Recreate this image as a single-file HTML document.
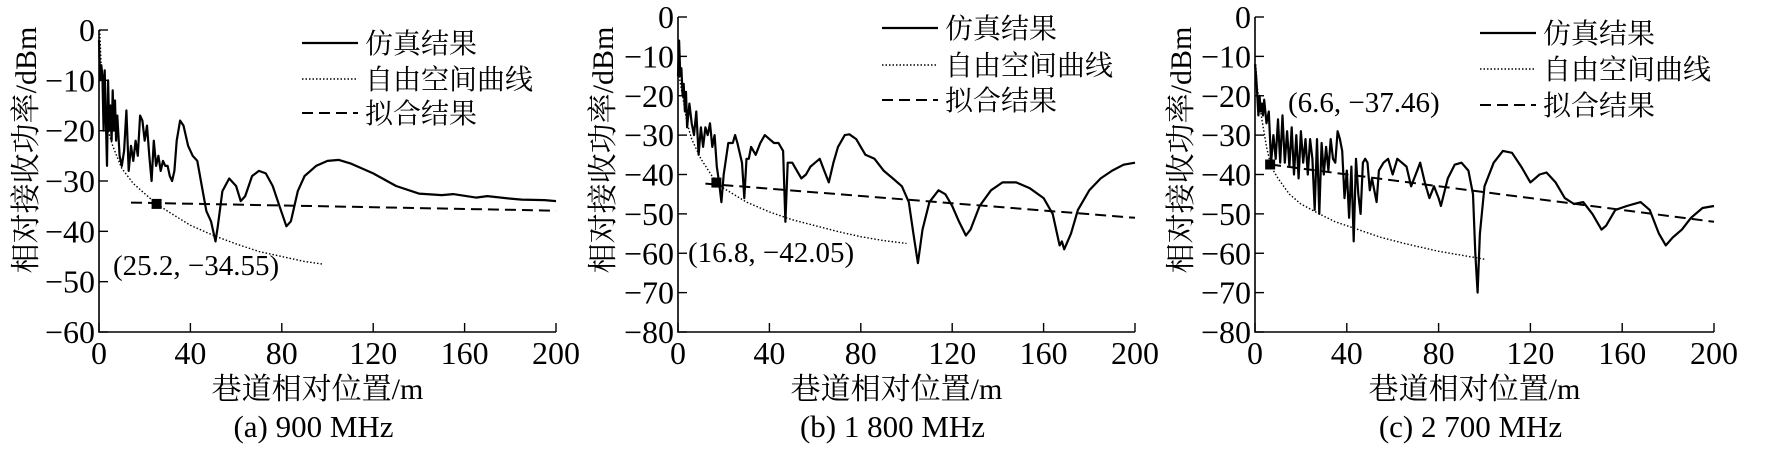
<!DOCTYPE html>
<html><head><meta charset="utf-8"><style>
html,body{margin:0;padding:0;background:#fff;}
svg{display:block;}
text{font-family:"Liberation Serif","Noto Serif CJK SC","Noto Sans CJK SC",serif;fill:#000;}
</style></head><body>
<svg id="chart" width="1782" height="459" viewBox="0 0 1782 459" xmlns="http://www.w3.org/2000/svg"></svg>
<script>
// ---- data ----
const simA = [[0,-2],[0.5,-10],[1,-7],[1.5,-9],[2,-20],[2.5,-8],[3,-18],[3.5,-27],[4,-10],[4.5,-20],[5,-15],[5.5,-22],[6,-12],[6.5,-20],[7,-14],[7.5,-22],[8,-17],[9,-25],[10,-27],[11,-24],[12,-16],[13,-28],[14,-23],[15,-26],[16,-22],[17,-25],[18,-17],[19,-18],[20,-22],[21,-19],[22,-25],[23,-30],[24,-22],[25,-27],[26,-25],[27,-28],[28,-26],[29,-27],[30,-27],[31,-29],[32,-30],[33,-28],[34,-22],[35.5,-18],[37,-19],[39,-23],[41,-25],[43,-26],[45,-31],[47,-36],[49,-38],[51,-42],[52,-39],[54,-32],[57,-29.5],[60,-31],[62,-34],[64,-33],[67,-29],[70,-28],[73,-28.5],[76,-31],[79,-35],[82,-39],[84,-38],[87,-32],[90,-29],[95,-27],[100,-26],[105,-25.8],[110,-26.5],[120,-28.5],[130,-31],[140,-32.5],[150,-32.8],[155,-32.6],[165,-33.3],[170,-33],[180,-33.5],[185,-33.7],[195,-33.8],[200,-34]];
const freeA = [[0.3,0],[1,-8],[2,-14],[4,-20],[6,-23],[10,-27.5],[15,-30.5],[20,-32.5],[25,-34.5],[30,-36],[40,-38.8],[50,-40.8],[60,-42.5],[70,-44],[80,-45],[90,-46],[98,-46.5]];
const fitA = [[14,-34.3],[200,-35.9]];
const markA = [25.2,-34.55];

const simB = [[0,-15],[0.5,-6],[1,-15],[1.5,-13],[2,-20],[2.5,-17],[3,-24],[3.5,-19],[4,-28],[5,-22],[6,-27],[7,-30],[8,-24],[9,-35],[10,-28],[11,-33],[12,-28],[13,-30],[14,-27],[15,-33],[16,-30],[17,-38],[18,-42],[19,-47],[20,-40],[22,-32],[24,-32],[25,-30],[26,-32],[28,-37],[29,-46],[30,-36],[31,-36],[32,-33],[34,-35],[36,-32],[38,-30],[40,-31],[42,-32],[44,-32],[46,-34],[47,-52],[48,-37],[50,-37],[52,-39],[54,-41],[56,-40],[58,-38],[60,-37],[62,-36],[64,-39],[66,-42],[68,-37],[70,-33],[73,-30],[75,-29.8],[78,-31],[80,-33],[82,-35],[86,-36],[90,-39],[94,-41],[98,-43],[101,-47],[103,-55],[105,-62.5],[107,-54],[110,-47],[114,-44],[117,-45],[120,-48],[123,-52],[126,-55.5],[128,-54],[132,-48],[137,-44],[142,-42],[148,-42],[154,-43.5],[160,-46],[164,-50],[167,-58],[168,-57],[169,-59],[172,-55],[175,-49],[180,-44],[185,-41],[190,-39],[195,-37.5],[200,-37]];
const freeB = [[0.5,-15],[2,-20],[4,-27],[6,-31],[10,-36],[15,-40.5],[20,-43.5],[30,-47],[40,-49.5],[50,-51.5],[60,-53],[70,-54.5],[80,-55.8],[90,-56.8],[100,-57.5]];
const fitB = [[12,-42.3],[200,-51]];
const markB = [16.8,-42.05];

const simC = [[0,-12],[0.5,-15],[1,-20],[1.5,-25],[2,-20],[2.5,-24],[3,-22],[3.5,-25],[4,-21],[5,-27],[6,-24],[7,-37],[8,-30],[9,-36],[10,-26],[11,-37],[12,-25],[13,-37],[14,-29],[15,-38],[16,-28],[17,-40],[18,-30],[19,-41],[20,-29],[21,-37],[22,-31],[23,-40],[24,-31],[25,-36],[26,-49],[27,-31],[28,-50],[29,-32],[30,-40],[31,-33],[32,-39],[33,-31],[34,-36],[35,-37],[36,-29],[37,-31],[38,-34],[39,-46],[40,-39],[41,-51],[42,-38],[43,-57],[44,-36],[45,-45],[46,-50],[47,-37],[48,-36],[49,-37],[50,-44],[51,-41],[52,-44],[53,-47],[54,-39],[56,-37],[58,-36],[60,-40],[62,-36],[64,-37],[66,-38],[68,-43],[70,-40],[72,-37],[74,-42],[76,-46],[78,-43],[80,-46],[81,-48],[84,-41],[87,-37.5],[90,-37],[93,-39],[95,-45],[96,-60],[97,-70],[98,-55],[100,-43],[104,-37],[108,-34],[112,-34.5],[116,-38],[120,-42],[124,-40],[127,-39.5],[131,-42],[135,-46],[139,-47.5],[143,-47],[147,-50],[151,-54],[153,-53],[157,-49],[162,-48],[168,-47],[172,-49],[176,-55],[179,-58],[182,-56],[186,-54],[190,-51],[195,-48.5],[200,-48]];
const freeC = [[0.3,-12],[1,-18],[2,-22],[3,-26],[5,-33],[7,-38],[10,-41],[15,-45],[20,-47.5],[28,-50],[35,-52],[45,-54],[55,-56],[65,-57.5],[80,-59.5],[90,-60.5],[100,-61.5]];
const fitC = [[6.6,-37.46],[200,-52]];
const markC = [6.6,-37.46];

const xTicks = [0,40,80,120,160,200];
const yTicksA = [0,-10,-20,-30,-40,-50,-60];
const yTicksBC = [0,-10,-20,-30,-40,-50,-60,-70,-80];
const legendLabels = ["仿真结果","自由空间曲线","拟合结果"];

// ---- drawing ----
const NS = "http://www.w3.org/2000/svg";
const svg = document.getElementById("chart");
function mk(tag, attrs, parent){const e=document.createElementNS(NS,tag);for(const k in attrs)e.setAttribute(k,attrs[k]);(parent||svg).appendChild(e);return e;}
function fmt(v){return v<0?"\u2212"+(-v):String(v);}

const panels = [
 {id:"a",x0:99,x1:556,yTop:30,yBot:332,ymin:-60,yt:yTicksA,sim:simA,free:freeA,fit:fitA,mark:markA,
  ann:"(25.2, \u221234.55)",annX:113,annY:275,legX:302,legY:[43,79,113],ylabX:25,cap:"(a)  900 MHz"},
 {id:"b",x0:678,x1:1135,yTop:17,yBot:332,ymin:-80,yt:yTicksBC,sim:simB,free:freeB,fit:fitB,mark:markB,
  ann:"(16.8, \u221242.05)",annX:688,annY:262,legX:882,legY:[28,65,100],ylabX:602,cap:"(b)  1 800 MHz"},
 {id:"c",x0:1255,x1:1714,yTop:17,yBot:332,ymin:-80,yt:yTicksBC,sim:simC,free:freeC,fit:fitC,mark:markC,
  ann:"(6.6, \u221237.46)",annX:1288,annY:112,legX:1480,legY:[33,69,105],ylabX:1180,cap:"(c)  2 700 MHz"}
];

panels.forEach(p=>{
  const g = mk("g",{});
  
  
  const sx = v => p.x0 + (v/200)*(p.x1-p.x0);
  const sy = v => p.yTop + (v/p.ymin)*(p.yBot-p.yTop);
  const ax = mk("path",{d:`M${p.x0},${p.yTop} V${p.yBot} H${p.x1}`,fill:"none",stroke:"#000","stroke-width":1.6},g);
  
  
  p.yt.forEach(v=>{
    mk("line",{x1:p.x0,x2:p.x0+9,y1:sy(v),y2:sy(v),stroke:"#000","stroke-width":1.4},g);
    const t=mk("text",{x:p.x0-4,y:sy(v)+11,"font-size":32,"text-anchor":"end"},g);
    t.textContent=fmt(v);
    
    
  });
  xTicks.forEach(v=>{
    mk("line",{x1:sx(v),x2:sx(v),y1:p.yBot,y2:p.yBot-9,stroke:"#000","stroke-width":1.4},g);
    const t=mk("text",{x:sx(v),y:p.yBot+32,"font-size":32,"text-anchor":"middle"},g);
    t.textContent=String(v);
    
    
  });
  const pathOf = arr => arr.map((d,i)=>(i?"L":"M")+sx(d[0]).toFixed(1)+","+sy(d[1]).toFixed(1)).join(" ");
  const fr = mk("path",{d:pathOf(p.free),fill:"none",stroke:"#000","stroke-width":1.4,"stroke-dasharray":"1.5 2"},g);
  
  
  const ft = mk("path",{d:pathOf(p.fit),fill:"none",stroke:"#000","stroke-width":2,"stroke-dasharray":"11 6"},g);
  
  
  const sm = mk("path",{d:pathOf(p.sim),fill:"none",stroke:"#000","stroke-width":2.2,"stroke-linejoin":"round"},g);
  
  
  const mr = mk("rect",{x:sx(p.mark[0])-5,y:sy(p.mark[1])-5,width:10,height:10,fill:"#000"},g);
  
  
  const an = mk("text",{x:p.annX,y:p.annY,"font-size":29},g);
  an.textContent=p.ann;
  
  
  const dashes = [null,"1.5 2","11 6"];
  const widths = [2.2,1.4,2];
  legendLabels.forEach((lab,i)=>{
    const ly=p.legY[i];
    const l=mk("line",{x1:p.legX,x2:p.legX+56,y1:ly,y2:ly,stroke:"#000","stroke-width":widths[i]},g);
    if(dashes[i]) l.setAttribute("stroke-dasharray",dashes[i]);
    
    
    const t=mk("text",{x:p.legX+63,y:ly+10,"font-size":28},g);
    t.textContent=lab;
    
    
  });
  const yl=mk("text",{x:0,y:0,"font-size":30,"text-anchor":"middle",transform:`translate(${p.ylabX+11},${150}) rotate(-90)`},g);
  yl.textContent="相对接收功率/dBm";
  
  
  const xc=(p.x0+p.x1)/2;
  const xl=mk("text",{x:xc-10,y:399,"font-size":30,"text-anchor":"middle"},g);
  xl.textContent="巷道相对位置/m";
  
  
  const cp=mk("text",{x:xc-14,y:437,"font-size":31,"text-anchor":"middle","xml:space":"preserve"},g);
  cp.textContent=p.cap;
  
  
});
</script>
</body></html>
